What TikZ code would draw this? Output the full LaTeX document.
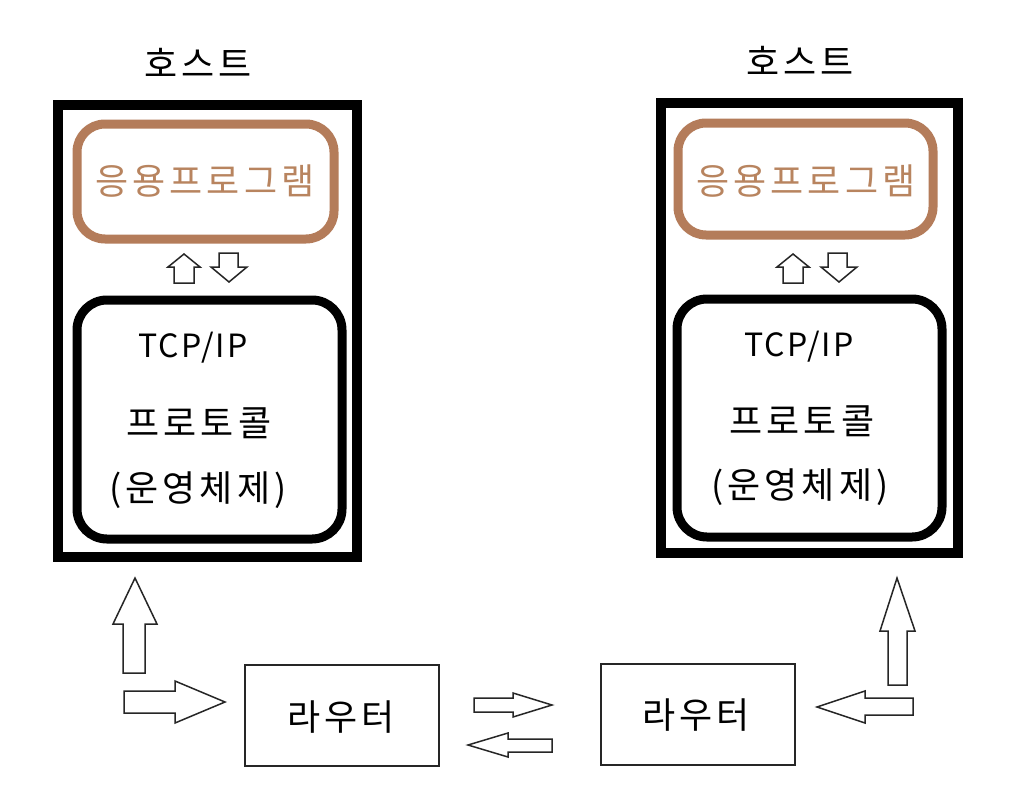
\documentclass[tikz,border=0pt]{standalone}
\usepackage{fontspec}
\setmainfont{Noto Sans CJK KR}
\newfontfamily\korfont[LetterSpace=11]{Noto Sans CJK KR}
\newfontfamily\latfont[LetterSpace=7]{Noto Sans CJK KR}
\definecolor{appbrown}{HTML}{B47C5A}
\definecolor{apptext}{HTML}{B8845F}
\begin{document}
\begin{tikzpicture}[x=1pt,y=-1pt,
  hostbox/.style={draw=black,line width=10pt},
  appbox/.style={draw=appbrown,line width=9pt,rounded corners=28pt},
  tcpbox/.style={draw=black,line width=9pt,rounded corners=30pt},
  routerbox/.style={draw=black!85,line width=1.8pt},
  blockarrow/.style={draw=black!85,line width=1.5pt,fill=white,line join=miter},
  smallarrow/.style={draw=black!85,line width=1.5pt,fill=white,line join=miter},
  kor/.style={inner sep=0pt,font=\korfont\fontsize{36}{42}\selectfont},
  latin/.style={inner sep=0pt,font=\latfont\fontsize{32}{38}\selectfont}]
\useasboundingbox[fill=white] (0,0) rectangle (1032,792);

% ---------- left host ----------
\node[kor] (h1) at (198,63) {호스트};
\draw[hostbox] (58,105) rectangle (357,557);
\draw[appbox] (77,124) rectangle (334,239);
\node[kor,text=apptext] (a1) at (205,181) {응용프로그램};
\draw[tcpbox] (77,300) rectangle (342,539);
\node[latin] (t1) at (193,348) {TCP/IP};
\node[kor] (p1) at (199,423) {프로토콜};
\node[kor] (o1) at (198,490) {(운영체제)};
% small arrows
\draw[smallarrow] (174,283) -- (174,267) -- (168,267) -- (184,254) -- (200,267) -- (194,267) -- (194,283) -- cycle;
\draw[smallarrow] (219,253) -- (238,253) -- (238,267) -- (247,267) -- (229,282) -- (211,267) -- (219,267) -- cycle;

% ---------- right host ----------
\node[kor] (h2) at (800,61) {호스트};
\draw[hostbox] (661,103) rectangle (958,553);
\draw[appbox] (678,123) rectangle (933,235);
\node[kor,text=apptext] (a2) at (806,181) {응용프로그램};
\draw[tcpbox] (677,299) rectangle (942,537);
\node[latin] (t2) at (799,347) {TCP/IP};
\node[kor] (p2) at (802,421) {프로토콜};
\node[kor] (o2) at (800,487) {(운영체제)};
% small arrows
\draw[smallarrow] (783,283) -- (783,267) -- (777,267) -- (793,254) -- (809,267) -- (803,267) -- (803,283) -- cycle;
\draw[smallarrow] (828,253) -- (847,253) -- (847,267) -- (857,267) -- (839,282) -- (821,267) -- (828,267) -- cycle;

% ---------- routers ----------
\draw[routerbox] (245,665) rectangle (439,766);
\node[kor] (r1) at (341,717) {라우터};
\draw[routerbox] (601,664) rectangle (795,765);
\node[kor] (r2) at (696,715) {라우터};

% ---------- block arrows ----------
% left up
\draw[blockarrow] (123,673) -- (123,624) -- (113,624) -- (135,578) -- (157,624) -- (145,624) -- (145,673) -- cycle;
% left right
\draw[blockarrow] (124,691) -- (175,691) -- (175,681) -- (225,702) -- (175,723) -- (175,713) -- (124,713) -- cycle;
% middle right
\draw[blockarrow] (474,698) -- (513,698) -- (513,693) -- (552,705) -- (513,717) -- (513,712) -- (474,712) -- cycle;
% middle left
\draw[blockarrow] (552,739) -- (508,739) -- (508,733) -- (468,745) -- (508,757) -- (508,752) -- (552,752) -- cycle;
% right up
\draw[blockarrow] (888,685) -- (888,631) -- (880,631) -- (897,578) -- (915,631) -- (907,631) -- (907,685) -- cycle;
% right left
\draw[blockarrow] (913,698) -- (865,698) -- (865,691) -- (817,707) -- (865,723) -- (865,715) -- (913,715) -- cycle;
\end{tikzpicture}
\end{document}
